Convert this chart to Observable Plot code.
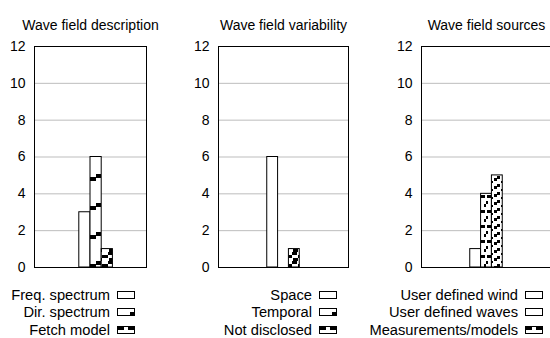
<!DOCTYPE html>
<html><head><meta charset="utf-8">
<script src="https://cdn.jsdelivr.net/npm/d3@7"></script>
<script src="https://cdn.jsdelivr.net/npm/@observablehq/plot@0.6"></script>
<style>
html,body{margin:0;padding:0;background:#fff;overflow:hidden;}
#root{position:relative;width:550px;height:338px;overflow:hidden;font-family:"Liberation Sans",Arial,sans-serif;}
.panel{position:absolute;top:0;}
.legend{position:absolute;font-size:14.7px;color:#000;}
.legend .row{display:flex;justify-content:flex-end;align-items:center;height:17.5px;white-space:nowrap;}
.legend svg{margin-left:7px;display:block;}
</style></head><body>
<svg width="0" height="0" style="position:absolute">
<defs>
<pattern id="pDir" patternUnits="userSpaceOnUse" width="12" height="29">
<rect width="12" height="29" fill="white"/>
<rect x="0" y="0" width="5" height="4" fill="black"/>
<rect x="6" y="3" width="6" height="4" fill="black"/>
</pattern>
<pattern id="pFetch" patternUnits="userSpaceOnUse" width="12" height="9">
<rect width="12" height="9" fill="white"/>
<rect x="0" y="0" width="5" height="3" fill="black"/>
<rect x="6" y="3" width="6" height="3" fill="black"/>
<rect x="1" y="6" width="5" height="3" fill="black"/>
</pattern>
<pattern id="pWaves" patternUnits="userSpaceOnUse" width="11" height="15">
<rect width="11" height="15" fill="white"/>
<rect x="1" y="0" width="9" height="3" fill="black"/>
<rect x="0" y="6" width="2" height="3" fill="black"/>
<rect x="9" y="9" width="2" height="3" fill="black"/>
</pattern>
<pattern id="pMeas" patternUnits="userSpaceOnUse" width="11" height="8">
<rect width="11" height="8" fill="white"/>
<rect x="0" y="0" width="3" height="3" fill="black"/>
<rect x="8" y="2" width="3" height="3" fill="black"/>
<rect x="4" y="5" width="3" height="2" fill="black"/>
</pattern>
<pattern id="sCorner" patternUnits="userSpaceOnUse" width="18" height="8">
<rect width="18" height="8" fill="white"/>
<rect x="13" y="4" width="5" height="4" fill="black"/>
</pattern>
<pattern id="sDash" patternUnits="userSpaceOnUse" width="18" height="8">
<rect width="18" height="8" fill="white"/>
<rect x="1" y="1" width="6" height="3" fill="black"/>
<rect x="11" y="1" width="6" height="3" fill="black"/>
</pattern>
</defs></svg>
<div id="root"></div>
<script>
// ---- data ----
const titles = ["Wave field description", "Wave field variability", "Wave field sources"];
const seriesP1 = ["Freq. spectrum", "Dir. spectrum", "Fetch model"];
const valuesP1 = [3, 6, 1];
const seriesP2 = ["Space", "Temporal", "Not disclosed"];
const valuesP2 = [6, 0, 1];
const seriesP3 = ["User defined wind", "User defined waves", "Measurements/models"];
const valuesP3 = [1, 4, 5];
const yTicks = [0, 2, 4, 6, 8, 10, 12];
const gridValues = [2, 4, 6, 8, 10];

// ---- styles / layout ----
const panels = [
  {series: seriesP1, values: valuesP1, fills: ["white", "url(#pDir)", "url(#pFetch)"],
   swatches: ["white", "url(#sCorner)", "url(#sDash)"],
   left: 0, frameW: 112, xdomain: [-5.5, 4.5], legendRight: 550 - 135},
  {series: seriesP2, values: valuesP2, fills: ["white", "url(#pDir)", "url(#pFetch)"],
   swatches: ["white", "url(#sCorner)", "url(#sDash)"],
   left: 184, frameW: 130, xdomain: [-6, 6], legendRight: 550 - 337},
  {series: seriesP3, values: valuesP3, fills: ["white", "url(#pWaves)", "url(#pMeas)"],
   swatches: ["white", "white", "url(#sDash)"],
   left: 387, frameW: 130, xdomain: [-6, 6], legendRight: 550 - 543}
];
const ML = 34, MR = 2, MT = 46, MB = 8, H = 275;

const root = document.getElementById("root");
panels.forEach((p, i) => {
  const data = p.series.map((s, k) => ({s, v: p.values[k], k, fill: p.fills[k]}));
  const plot = Plot.plot({
    width: ML + p.frameW + MR, height: H,
    marginLeft: ML, marginRight: MR, marginTop: MT, marginBottom: MB,
    x: {domain: p.xdomain, axis: null},
    y: {domain: [0, 12], axis: null},
    style: {fontFamily: '"Liberation Sans", Arial, sans-serif', fontSize: "14px", color: "black", background: "transparent", overflow: "visible"},
    marks: [
      Plot.ruleY(gridValues, {stroke: "#bdbdbd", strokeWidth: 1}),
      ...data.map(d => Plot.rectY([d], {x1: r => r.k - 1.5, x2: r => r.k - 0.5, y1: 0, y2: "v",
        fill: d.fill, stroke: "black", strokeWidth: 1})),
      Plot.frame({stroke: "black", strokeWidth: 1}),
      Plot.axisY(yTicks, {tickSize: 0, tickPadding: 9, fontSize: 14, fill: "black", label: null}),
      Plot.text([titles[i]], {frameAnchor: "top", dy: -26, fontSize: 14, fill: "black"})
    ]
  });
  plot.classList.add("panel");
  plot.style.left = p.left + "px";
  root.appendChild(plot);

  const lg = document.createElement("div");
  lg.className = "legend";
  lg.style.right = p.legendRight + "px";
  lg.style.top = "286px";
  p.series.forEach((s, k) => {
    const row = document.createElement("div");
    row.className = "row";
    const t = document.createElement("span");
    t.textContent = s;
    row.appendChild(t);
    const ns = "http://www.w3.org/2000/svg";
    const sv = document.createElementNS(ns, "svg");
    sv.setAttribute("width", 18); sv.setAttribute("height", 8);
    const r = document.createElementNS(ns, "rect");
    r.setAttribute("x", 0.5); r.setAttribute("y", 0.5);
    r.setAttribute("width", 17); r.setAttribute("height", 7);
    r.setAttribute("fill", p.swatches[k]); r.setAttribute("stroke", "black");
    sv.appendChild(r);
    row.appendChild(sv);
    lg.appendChild(row);
  });
  root.appendChild(lg);
});
</script>
</body></html>
